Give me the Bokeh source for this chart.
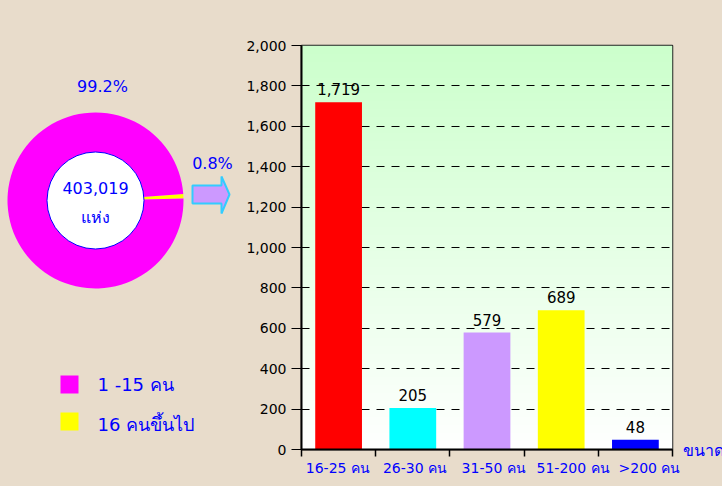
import numpy as np
from bokeh.plotting import figure
from bokeh.layouts import row
from bokeh.models import Range1d, FixedTicker, NumeralTickFormatter, Label, ColumnDataSource
from bokeh.core.properties import value
from bokeh.embed import file_html
from bokeh.resources import INLINE

BG = "#e8dccb"
BLUE = "#0000ff"
FONT = "DejaVu Sans"

# ---- data ----
share_labels = ["1 -15 คน", "16 คนขึ้นไป"]
share_pct = [99.2, 0.8]
share_colors = ["#ff00ff", "#ffff00"]
total_label = "403,019"
total_unit = "แห่ง"

size_cats = ["16-25 คน", "26-30 คน", "31-50 คน", "51-200 คน", ">200 คน"]
size_counts = [1719, 205, 579, 689, 48]
size_colors = ["#ff0000", "#00ffff", "#cc99ff", "#ffff00", "#0000ff"]
y_ticks = [0, 200, 400, 600, 800, 1000, 1200, 1400, 1600, 1800, 2000]
y_title = "จำนวน (แห่ง)"
x_title = "ขนาด"

H = 486
LW = 243
RW = 680 - LW
TW = 722 - LW - RW


def blank(width, x0):
    f = figure(width=width, height=H, x_range=Range1d(x0, x0 + width), y_range=Range1d(0, H),
               output_backend="svg", toolbar_location=None, min_border=0, title=None,
               x_axis_location=None, y_axis_location=None, frame_align=False)
    f.grid.visible = False
    f.outline_line_color = None
    f.background_fill_color = BG
    f.border_fill_color = BG
    return f


# ---- left panel: donut ----
left = blank(LW, 0)

cx, cy = 95, H - 200
a = np.deg2rad(1.3)
starts, ends, cols = [], [], []
for i in [1, 0]:
    span = share_pct[i] / 100 * 2 * np.pi
    starts.append(a); ends.append(a + span); cols.append(share_colors[i])
    a += span
left.annular_wedge(x=cx, y=cy, inner_radius=47, outer_radius=88,
                   inner_radius_units="screen", outer_radius_units="screen",
                   start_angle=starts, end_angle=ends, fill_color=cols, line_color=None)
left.circle(x=cx, y=cy, radius=48.5, radius_units="screen", fill_color="white",
            line_color=BLUE, line_width=1)
left.text(x=[cx, cx], y=[H - 187, H - 217], text=[total_label, total_unit], text_align="center",
          text_baseline="middle", text_color=BLUE, text_font=value(FONT), text_font_size="16px")
left.text(x=[102, 212], y=[H - 86, H - 163], text=[f"{share_pct[0]}%", f"{share_pct[1]}%"],
          text_align="center", text_baseline="middle", text_color=BLUE,
          text_font=value(FONT), text_font_size="16px")

# arrow
ax = [192, 221, 221, 229, 221, 221, 192]
ay = [185, 185, 176, 194, 213, 203, 203]
left.patch(x=ax, y=[H - v for v in ay], fill_color="#cc99ff",
           line_color="#33ccff", line_width=2)

# legend
left.scatter(x=[69, 69], y=[H - 384, H - 421], marker="square", size=18, fill_color=share_colors,
             line_color=None)
left.text(x=[97, 97], y=[H - 384, H - 424], text=share_labels, text_align="left",
          text_baseline="middle", text_color=BLUE, text_font=value(FONT), text_font_size="18px")

# ---- right panel: bars ----
p = figure(width=RW, height=H, x_range=Range1d(0, 5), y_range=Range1d(0, 2000),
           output_backend="svg", toolbar_location=None, title=None,
           min_border_left=58, min_border_right=680 - 672, min_border_top=45,
           min_border_bottom=H - 449)
p.background_fill_color = "white"
p.border_fill_color = BG
p.outline_line_color = "#222222"
p.outline_line_width = 1.5

# gradient background
n = 256
t = np.linspace(0, 1, n)
img = np.zeros((n, 1), dtype=np.uint32)
v = img.view(dtype=np.uint8).reshape((n, 1, 4))
v[:, 0, 0] = (255 - 51 * t).astype(np.uint8)
v[:, 0, 1] = 255
v[:, 0, 2] = (255 - 51 * t).astype(np.uint8)
v[:, 0, 3] = 255
p.image_rgba(image=[img], x=0, y=0, dw=5, dh=2000, level="image")

xs = [i + 0.5 for i in range(len(size_cats))]
src = ColumnDataSource(dict(x=xs, top=size_counts, color=size_colors,
                            lab=[f"{c:,}" for c in size_counts]))
p.vbar(x="x", top="top", width=0.63, fill_color="color", line_color=None, source=src)
p.text(x="x", y="top", text="lab", text_align="center", text_baseline="bottom", y_offset=-7,
       text_color="black", text_font=value(FONT), text_font_size="15px", source=src)

# axes
p.yaxis.ticker = FixedTicker(ticks=y_ticks)
p.yaxis.formatter = NumeralTickFormatter(format="0,0")
p.yaxis.major_label_text_font = FONT
p.yaxis.major_label_text_font_size = "14px"
p.yaxis.major_label_text_color = "black"
p.yaxis.major_tick_out = 10
p.yaxis.major_tick_in = 0
p.yaxis.major_label_standoff = 5
p.yaxis.minor_tick_line_color = None
p.yaxis.axis_line_width = 2
p.yaxis.axis_line_color = "black"
p.yaxis.major_tick_line_color = "black"

# category labels sit slightly right of the bar centres, as in the original
label_pos = [0.49, 1.53, 2.59, 3.66, 4.69]
p.xaxis.ticker = FixedTicker(ticks=label_pos, minor_ticks=list(range(len(size_cats) + 1)))
p.xaxis.major_label_overrides = {x: c for x, c in zip(label_pos, size_cats)}
p.xaxis.major_tick_line_color = None
p.xaxis.minor_tick_line_color = "black"
p.xaxis.minor_tick_out = 7
p.xaxis.minor_tick_in = 0
p.xaxis.minor_tick_line_width = 1.5
p.xaxis.axis_line_width = 2
p.xaxis.axis_line_color = "black"
p.xaxis.major_label_text_font = FONT
p.xaxis.major_label_text_font_size = "14px"
p.xaxis.major_label_text_color = BLUE
p.xaxis.major_label_standoff = 3

p.xgrid.visible = False
p.ygrid.ticker = FixedTicker(ticks=y_ticks)
p.ygrid.grid_line_color = "black"
p.ygrid.grid_line_dash = "8 7"
p.ygrid.grid_line_width = 1

p.add_layout(Label(x=0.63, y=2134, text=y_title, text_align="center", text_baseline="middle",
                   text_color=BLUE, text_font=FONT, text_font_size="16px"))

# ---- far right strip: x-axis title ----
tail = blank(TW, LW + RW)
tail.text(x=[682], y=[H - 450], text=[x_title], text_align="left", text_baseline="middle",
          text_color=BLUE, text_font=value(FONT), text_font_size="16px")

layout = row(left, p, tail)
html = file_html(layout, INLINE)
html = html.replace("<head>", "<head><style>html,body{background:#e8dccb;margin:0;overflow:hidden;}</style>", 1)
open("out.html", "w").write(html)
